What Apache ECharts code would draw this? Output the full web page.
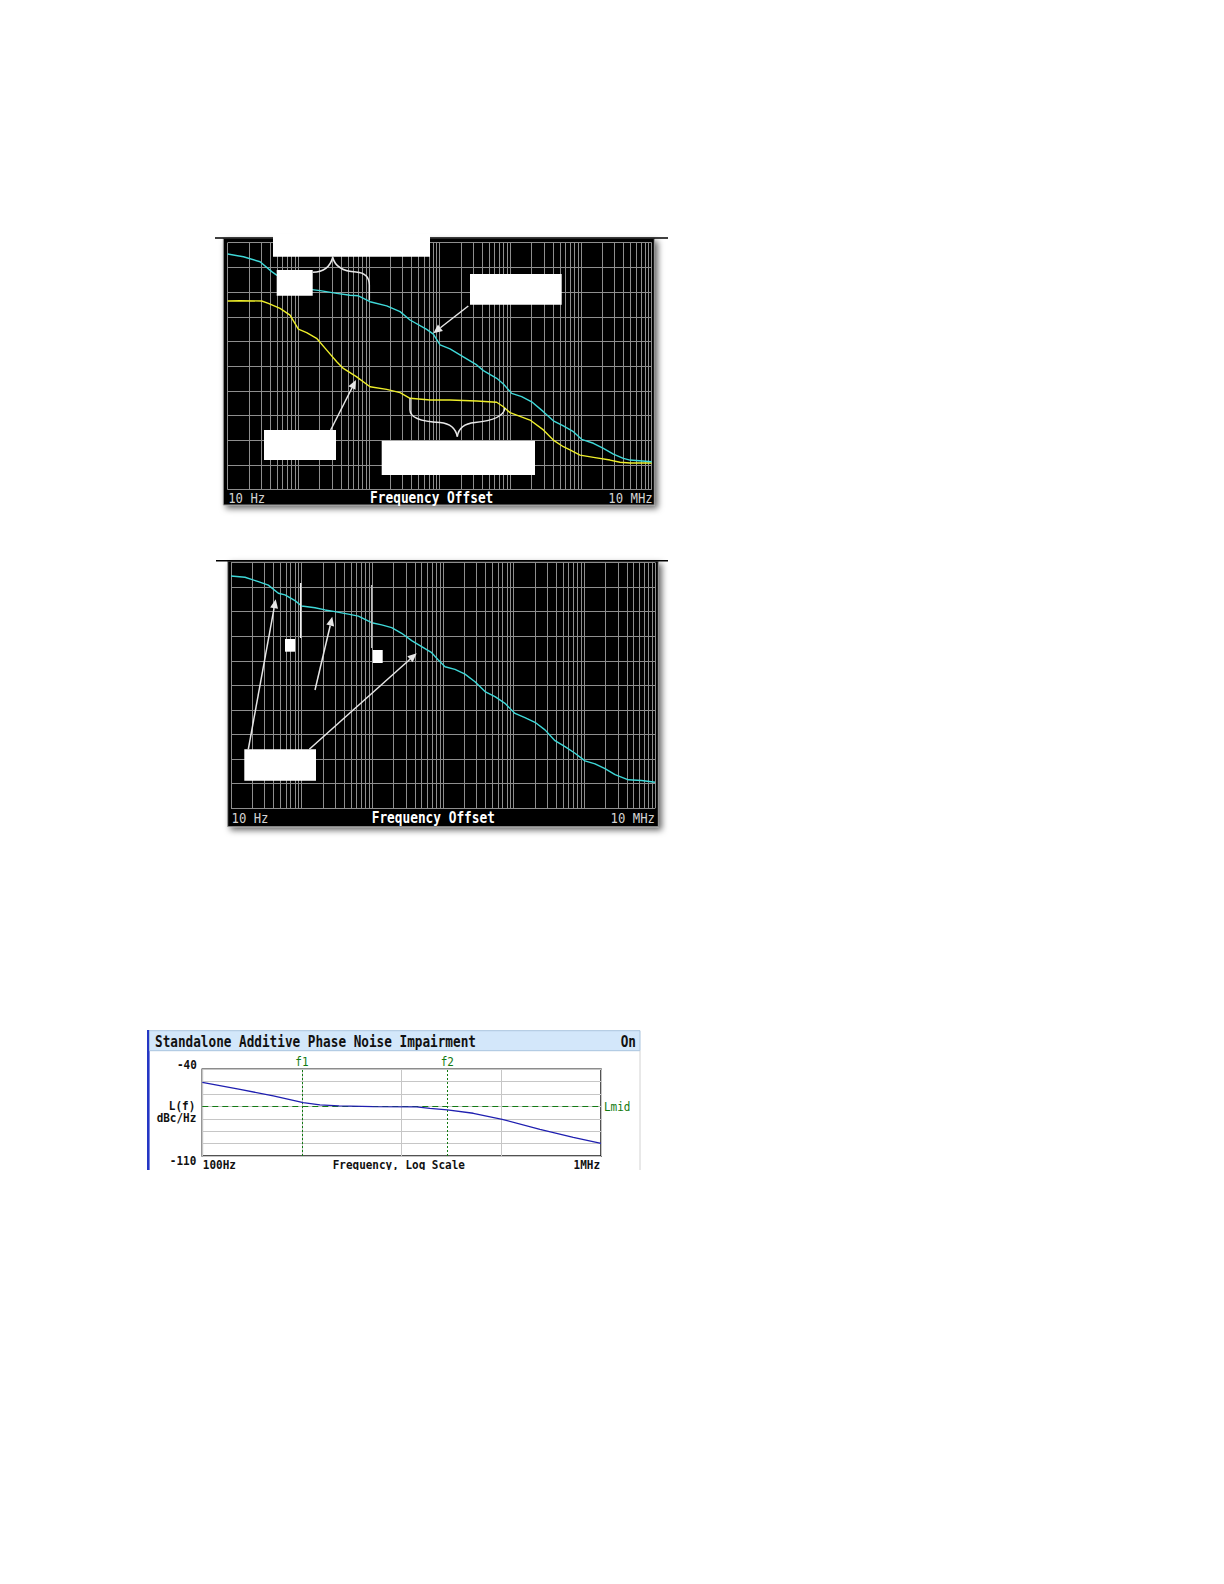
<!DOCTYPE html>
<html><head><meta charset="utf-8">
<script src="https://cdn.jsdelivr.net/npm/echarts@6/dist/echarts.min.js"></script>
<style>html,body{margin:0;padding:0;background:#fff;}#c{width:1224px;height:1584px;}</style>
</head><body><div id="c"></div>
<script>
// ---------- DATA ----------
// Display 1: two traces, frequency offset (Hz) vs level (dBc/Hz, reference unlabeled)
const d1CyanFreq = [10,16.7,28.7,42,49.3,68.4,94.6,146,203,349,538,706,1032,1778,2748,3802,6546,8128,10115,14000,21600,33400,41500,64100,79600,104500,144600,200400,293000,405600,562000,779000,1020000,1495000,2070000,2870000,3970000,4930000,10000000];
const d1CyanLevel = [-64.6,-65.7,-67.7,-71.7,-73.1,-75.1,-77.1,-78.9,-79.4,-80.5,-81.3,-81.5,-83.9,-85.6,-87.9,-91.3,-95.1,-97,-101.4,-103,-106.2,-109.5,-111.8,-114.9,-117.2,-121,-122.3,-124.4,-128.4,-132.1,-134.2,-136.5,-139.6,-141.2,-143.3,-145.6,-147.3,-148,-148.7];
const d1YellowFreq = [10,15,30.3,37.6,55,76.2,100,131,181,252,349,433,669,1032,1778,2748,3802,7300,14000,33400,64100,79600,98900,189700,293000,405600,562000,698000,968000,1500000,2570000,3560000,4930000,10000000];
const d1YellowLevel = [-83.6,-83.5,-83.6,-84.6,-86.6,-89.3,-95,-96.4,-98.7,-103.5,-108.2,-110.9,-114.3,-118.3,-119.4,-120.7,-123,-123.7,-123.7,-124.1,-124.6,-126.4,-128.8,-131.8,-135.8,-139.9,-142.6,-143.9,-146,-146.9,-148,-148.9,-149.2,-149.2];
// Display 2: single trace
const d2CyanFreq = [10,15.8,24.4,33.7,46.8,58,80.5,100,154.5,214,296,457,634,979,1356,1879,2600,3605,4990,6918,8590,10670,14790,20470,28370,39300,54450,75400,104400,144500,200300,277500,384500,532500,738000,1020000,1416000,1960000,2720000,4200000,6470000,10000000];
const d2CyanLevel = [-65.5,-66,-67.8,-69.2,-72.5,-73.2,-75.5,-77.7,-78.4,-79.3,-80,-81,-81.8,-84.5,-85.4,-86.5,-88.8,-91.8,-94.2,-96.7,-99.7,-102.4,-103.5,-105.4,-108.5,-112.5,-114.6,-117.3,-121.4,-123.1,-125,-128.1,-132.5,-134.9,-137.6,-140.7,-141.9,-143.9,-146.3,-148.4,-148.7,-149.4];
// Display 3: Standalone Additive Phase Noise Impairment
const d3Freq = [100,239,515,1030,1513,2350,5200,14100,19200,28700,52300,102000,244000,527000,1000000];
const d3Level = [-50.5,-56.2,-61.5,-66.9,-68.8,-69.6,-70.2,-70.4,-71.5,-72.8,-75.5,-80.4,-88.5,-94.9,-99.8];
const d3Markers = {f1: 1000, f2: 28700, Lmid: -70};
// Axis ranges / tick labels
const axis12 = {xMin: 10, xMax: 1e7, yMin: -160, yMax: -60, yStep: 10};
const axis3 = {xMin: 100, xMax: 1e6, yMin: -110, yMax: -40, yStep: 10};
const labels12 = {left: '10 Hz', mid: 'Frequency Offset', right: '10 MHz'};
const labels3 = {title: 'Standalone Additive Phase Noise Impairment', state: 'On', yTop: '-40', yBottom: '-110',
  yName1: 'L(f)', yName2: 'dBc/Hz', xLeft: '100Hz', xMid: 'Frequency, Log Scale', xRight: '1MHz'};

// minor log grid positions (2..9 within each decade)
function minorTicks(lo, hi){ const r=[]; for(let d=lo; d<hi; d*=10){ for(let m=2;m<=9;m++) r.push(d*m);} return r; }
const minor12 = minorTicks(axis12.xMin, axis12.xMax);
const pairs = (f,l)=>f.map((v,i)=>[v,l[i]]);

// ---------- LAYOUT ----------
const G1 = {left:227.7, top:242.7, width:424, height:247};
const G2 = {left:231, top:562.5, width:424, height:245.8};
const G3 = {left:202.3, top:1069.3, width:398.7, height:86.7};
const MONO = '"DejaVu Sans Mono"';
const GRIDC = '#8e8e8e';

const chart = echarts.init(document.getElementById('c'), null, {renderer:'svg', width:1224, height:1584});

function xAx(i, a, grid){ return {type:'log', logBase:10, gridIndex:i, min:a.xMin, max:a.xMax, z:5,
  axisLine:{show:false}, axisTick:{show:false}, axisLabel:{show:false},
  splitLine:{show:true, lineStyle:{color:grid, width:1}}}; }
function yAx(i, a, grid){ return {type:'value', gridIndex:i, min:a.yMin, max:a.yMax, interval:a.yStep, z:5,
  axisLine:{show:false}, axisTick:{show:false}, axisLabel:{show:false},
  splitLine:{show:true, lineStyle:{color:grid, width:1}}}; }
function minorHelper(i, data){ return {type:'line', xAxisIndex:i, yAxisIndex:i, data, z:4, silent:true,
  symbol:'none', lineStyle:{opacity:0}, markLine:{silent:true, symbol:['none','none'], label:{show:false},
  lineStyle:{color:GRIDC, width:1, type:'solid'}, emphasis:{disabled:true}, animation:false,
  data: minor12.map(v=>({xAxis:v}))}}; }
function trace(i, data, color, w){ return {type:'line', xAxisIndex:i, yAxisIndex:i, data, z:8, silent:true,
  symbol:'none', lineStyle:{color, width:w}}; }

chart.setOption({
  animation:false, backgroundColor:'#fff',
  grid:[
    Object.assign({containLabel:false}, G1),
    Object.assign({containLabel:false}, G2),
    Object.assign({containLabel:false, show:true, backgroundColor:'#fff', borderColor:'#1a1a1a', borderWidth:1.5}, G3)
  ],
  xAxis:[xAx(0,axis12,GRIDC), xAx(1,axis12,GRIDC), xAx(2,axis3,'#c6c6c6')],
  yAxis:[yAx(0,axis12,GRIDC), yAx(1,axis12,GRIDC), yAx(2,axis3,'#c6c6c6')],
  series:[
    minorHelper(0, pairs(d1YellowFreq,d1YellowLevel)),
    minorHelper(1, pairs(d2CyanFreq,d2CyanLevel)),
    trace(0, pairs(d1YellowFreq,d1YellowLevel), '#eeee2a', 1.4),
    trace(0, pairs(d1CyanFreq,d1CyanLevel), '#3fd9d9', 1.4),
    trace(1, pairs(d2CyanFreq,d2CyanLevel), '#3fd9d9', 1.4),
    {type:'line', xAxisIndex:2, yAxisIndex:2, data:pairs(d3Freq,d3Level), z:4, silent:true, symbol:'none',
      lineStyle:{opacity:0},
      markLine:{silent:true, symbol:['none','none'], label:{show:false}, animation:false, emphasis:{disabled:true},
        data:[
          {xAxis:d3Markers.f1, lineStyle:{color:'#127a12', width:1, type:[2,2]}},
          {xAxis:d3Markers.f2, lineStyle:{color:'#127a12', width:1, type:[2,2]}},
          {yAxis:d3Markers.Lmid, lineStyle:{color:'#127a12', width:1, type:[6,4]}}
        ]}},
    trace(2, pairs(d3Freq,d3Level), '#1f1fb0', 1.3)
  ]
});

// ---------- ANNOTATIONS / TEXT ----------
const px = (i, x, y) => chart.convertToPixel({xAxisIndex:i, yAxisIndex:i}, [x, y]);
function txt(x, y, text, font, fill, align, scaleY){
  return {type:'text', x, y, scaleY: scaleY||1, z:30, silent:true,
    style:{text, font, fill, align, textAlign:align, verticalAlign:'middle', textVerticalAlign:'middle'}};
}
function rect(x, y, w, h, style, z){ return {type:'rect', z: z==null?30:z, silent:true, shape:{x, y, width:w, height:h}, style}; }
function seg(x1,y1,x2,y2,stroke,w,z){ return {type:'line', z: z==null?30:z, silent:true, shape:{x1,y1,x2,y2}, style:{stroke, lineWidth:w}}; }
function curve(x1,y1,cx,cy,x2,y2,stroke){ return {type:'bezierCurve', z:31, silent:true, shape:{x1,y1,x2,y2,cpx1:cx,cpy1:cy}, style:{stroke, fill:null, lineWidth:1.5}}; }
function arrow(x1,y1,x2,y2,color){
  const a = Math.atan2(y2-y1, x2-x1), L = 9, W = 4;
  const bx = x2 - L*Math.cos(a), by = y2 - L*Math.sin(a);
  return [seg(x1,y1,bx,by,color,1.5,31),
    {type:'polygon', z:31, silent:true, shape:{points:[[x2,y2],[bx+W*Math.sin(a), by-W*Math.cos(a)],[bx-W*Math.sin(a), by+W*Math.cos(a)]]}, style:{fill:color}}];
}
const W = '#ffffff', AR = '#e6e6e6', BR = '#e8e8e8';
const panelStyle = {fill:'#000', stroke:'#9a9a9a', lineWidth:1, shadowBlur:6, shadowOffsetX:3, shadowOffsetY:3, shadowColor:'rgba(0,0,0,0.6)'};

const p1L = px(0, axis12.xMin, axis12.yMin), p1R = px(0, axis12.xMax, axis12.yMin);
const p2L = px(1, axis12.xMin, axis12.yMin), p2R = px(1, axis12.xMax, axis12.yMin);
const p3L = px(2, axis3.xMin, axis3.yMin), p3R = px(2, axis3.xMax, axis3.yMin), p3T = px(2, axis3.xMin, axis3.yMax);
const pf1 = px(2, d3Markers.f1, axis3.yMax), pf2 = px(2, d3Markers.f2, axis3.yMax);
const pLm = px(2, axis3.xMax, d3Markers.Lmid);

const lab12Font = '12.3px ' + MONO, mid12Font = 'bold 12.8px ' + MONO;
const f3 = 'bold 11px ' + MONO;

const elements = [
  // display 1 panel
  rect(223.3, 238.5, 431, 266.5, panelStyle, 0),
  seg(215, 238, 668, 238, '#000', 1.5, 1),
  txt(p1L[0]+0.5, 498, labels12.left, lab12Font, '#d2d2d2', 'left', 1.12),
  txt(431.7, 497.5, labels12.mid, mid12Font, '#ffffff', 'center', 1.18),
  txt(p1R[0]+1, 498, labels12.right, lab12Font, '#d2d2d2', 'right', 1.12),
  // display 1 annotations (masked callouts)
  rect(273, 234, 157, 22.7, {fill:W}),
  rect(276.7, 270, 36, 25.7, {fill:W}),
  rect(470, 274, 91.7, 30.7, {fill:W}),
  rect(264, 430, 72, 30, {fill:W}),
  rect(381.7, 440.7, 153.3, 34.3, {fill:W}),
  curve(312.7,272.3, 329,272, 332.7,257.3, BR),
  curve(332.7,257.3, 336,271, 356,272, BR),
  curve(356,272, 369.3,273, 369.3,285, BR),
  seg(369.3,285, 369.3,300, BR, 1.5, 31),
  seg(410,398.3, 410,410, BR, 1.5, 31),
  curve(410,410, 410,421, 440,422.5, BR),
  curve(440,422.5, 455,424, 457.3,436.7, BR),
  curve(457.3,436.7, 459,424, 475,422.5, BR),
  curve(475,422.5, 503,420, 505,408, BR),
  ...arrow(468.3, 306, 433.3, 333.3, AR),
  ...arrow(330.7, 430, 356, 380, AR),
  // display 2 panel
  rect(227.7, 561, 430.6, 265.7, panelStyle, 0),
  seg(216, 560.7, 668, 560.7, '#000', 1.5, 1),
  txt(p2L[0]+0.5, 818, labels12.left, lab12Font, '#d2d2d2', 'left', 1.12),
  txt(433.3, 817.7, labels12.mid, mid12Font, '#ffffff', 'center', 1.18),
  txt(p2R[0], 818, labels12.right, lab12Font, '#d2d2d2', 'right', 1.12),
  rect(285, 639, 10, 12.7, {fill:W}),
  rect(372.7, 650, 10, 13, {fill:W}),
  rect(244.3, 749.3, 71.7, 31.4, {fill:W}),
  seg(300.7, 583, 300.7, 638, '#f0f0f0', 1.5, 31),
  seg(371.7, 585, 371.7, 648, '#bdbdbd', 1.5, 31),
  ...arrow(248.3, 749.3, 275.7, 599.3, AR),
  ...arrow(315, 690, 332.3, 616.7, AR),
  ...arrow(309.3, 749.3, 416.7, 653.3, AR),
  // display 3 frame
  rect(147, 1030, 2.6, 140, {fill:'#2436c4'}, 1),
  rect(149.5, 1030.7, 490.5, 20, {fill:'#d3e7fa', stroke:'#a9c4de', lineWidth:1}, 1),
  seg(640, 1050.7, 640, 1170, '#d2d2d2', 1, 1),
  txt(155, 1041, labels3.title, 'bold 12.7px ' + MONO, '#111', 'left', 1.3),
  txt(636, 1041, labels3.state, 'bold 12.7px ' + MONO, '#111', 'right', 1.3),
  txt(p3L[0]-5.5, p3T[1]-5, labels3.yTop, f3, '#111', 'right', 1.12),
  txt(p3L[0]-6, p3L[1]+4.7, labels3.yBottom, f3, '#111', 'right', 1.12),
  txt(p3L[0]-7, 1106, labels3.yName1, f3, '#111', 'right', 1.12),
  txt(p3L[0]-6, 1117.7, labels3.yName2, f3, '#111', 'right', 1.12),
  txt(p3L[0]+0.5, 1164.5, labels3.xLeft, f3, '#111', 'left', 1.12),
  txt(398.8, 1164.5, labels3.xMid, f3, '#111', 'center', 1.12),
  txt(p3R[0]-1, 1164.5, labels3.xRight, f3, '#111', 'right', 1.12),
  txt(pf1[0], pf1[1]-7, 'f1', '11px ' + MONO, '#127a12', 'center', 1.1),
  txt(pf2[0], pf2[1]-7, 'f2', '11px ' + MONO, '#127a12', 'center', 1.1),
  txt(pLm[0]+3, pLm[1], 'Lmid', '11px ' + MONO, '#127a12', 'left', 1.1),
  // crop edge of the screenshot
  rect(130, 1170, 530, 14, {fill:'#fff'}, 40)
];
chart.setOption({graphic:{elements}});
</script></body></html>
